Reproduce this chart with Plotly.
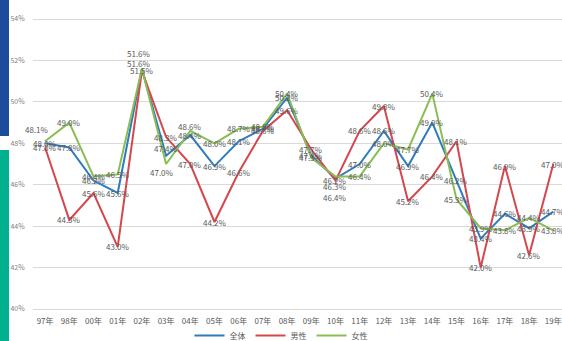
import plotly.graph_objects as go

# Survey years (category axis) and percentage values per group
years = ["97年", "98年", "00年", "01年", "02年", "03年", "04年", "05年", "06年", "07年", "08年",
         "09年", "10年", "11年", "12年", "13年", "14年", "15年", "16年", "17年", "18年", "19年"]
total = [48.0, 47.8, 46.2, 45.6, 51.6, 47.4, 48.4, 46.9, 48.1, 48.7, 50.2,
         47.4, 46.3, 47.0, 48.6, 46.9, 49.0, 46.2, 43.4, 44.6, 43.9, 44.7]
male = [47.8, 44.3, 45.6, 43.0, 51.5, 48.3, 47.0, 44.2, 46.6, 48.6, 49.6,
        47.7, 46.2, 48.6, 49.8, 45.2, 46.4, 48.1, 42.0, 46.9, 42.6, 47.0]
female = [48.1, 49.0, 46.4, 46.5, 51.6, 47.0, 48.6, 48.0, 48.7, 48.8, 50.4,
          47.3, 46.4, 46.4, 48.0, 47.7, 50.4, 45.3, 43.9, 43.8, 44.4, 43.8]
series_names = ["全体", "男性", "女性"]
y_ticks = [40, 42, 44, 46, 48, 50, 52, 54]

FONT = "Noto Sans CJK JP"
colors = {"全体": "#2E7BBE", "男性": "#D4474D", "女性": "#8BBD55"}

# pixel nudges for data labels that would otherwise sit on top of each other
label_nudge = {
    ("女性", 0): (-8, 12),
    ("女性", 4): (-3, 15),
    ("全体", 4): (-3, 5),
    ("全体", 5): (0, 7),
    ("女性", 5): (-4, -8),
    ("女性", 6): (0, 4),
    ("全体", 12): (0, -8),
    ("女性", 12): (0, -21),
}

fig = go.Figure()
data = {"全体": total, "男性": male, "女性": female}
for name in series_names:
    fig.add_trace(go.Scatter(
        x=years, y=data[name], name=name, mode="lines",
        line=dict(color=colors[name], width=2),
        hoverinfo="skip",
    ))

annotations = []
for name in series_names:
    for i, v in enumerate(data[name]):
        dx, dy = label_nudge.get((name, i), (0, 0))
        annotations.append(dict(
            x=i, y=v, xref="x", yref="y", text=f"{v:.1f}%", showarrow=False,
            xshift=dx, yshift=dy,
            font=dict(family=FONT, size=8, color="#595959"),
        ))

# decorative colour strips at the left edge
plot_w = 562 - 33
plot_h = 309 - 18
def px_x(p):
    return (p - 33) / plot_w
def px_y(p):
    return (309 - p) / plot_h

shapes = [
    dict(type="rect", xref="paper", yref="paper", x0=px_x(0), x1=px_x(9),
         y0=px_y(136), y1=px_y(0), fillcolor="#1E4C9C", line=dict(width=0), layer="above"),
    dict(type="rect", xref="paper", yref="paper", x0=px_x(0), x1=px_x(9),
         y0=px_y(341), y1=px_y(150), fillcolor="#00B08E", line=dict(width=0), layer="above"),
]

fig.update_layout(
    width=562, height=341,
    margin=dict(l=33, r=0, t=18, b=32, pad=0, autoexpand=False),
    paper_bgcolor="white", plot_bgcolor="white",
    font=dict(family=FONT, size=8, color="#595959"),
    showlegend=True,
    legend=dict(orientation="h", x=0.5, xref="container", xanchor="center",
                y=0.016, yref="container", yanchor="middle",
                font=dict(family=FONT, size=8, color="#595959"),
                itemwidth=30, tracegroupgap=0, bgcolor="rgba(0,0,0,0)"),
    annotations=annotations,
    shapes=shapes,
    xaxis=dict(type="category", range=[-0.5, 21.36], showgrid=False,
               showline=True, linecolor="#D9D9D9", linewidth=1,
               ticks="outside", ticklen=4, tickcolor="rgba(0,0,0,0)",
               tickfont=dict(family=FONT, size=8, color="#595959"), tickangle=0),
    yaxis=dict(range=[40, 54.05], tickvals=y_ticks, ticktext=[f"{t}%" for t in y_ticks],
               showgrid=True, gridcolor="#D9D9D9", gridwidth=1, zeroline=False,
               showline=False, ticks="outside", ticklen=6, tickcolor="rgba(0,0,0,0)",
               tickfont=dict(family=FONT, size=7, color="#7F7F7F")),
)

fig.write_html("out.html")
